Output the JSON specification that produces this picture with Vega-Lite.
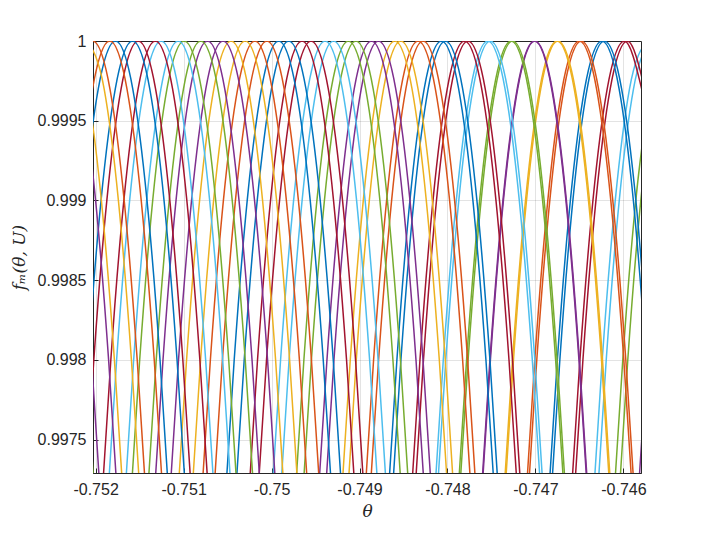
{
"$schema":"https://vega.github.io/schema/vega-lite/v6.json",
"width":548,"height":432,
"autosize":{"type":"none"},
"padding":{"left":93,"top":41,"right":69,"bottom":60},
"background":"white",
"data":{"values":[
{"c":"4L","m":4,"t":-0.7458264,"f":0.9972},{"c":"4L","m":4,"t":-0.7457334,"f":0.998},{"c":"4L","m":4,"t":-0.7455854,"f":0.999},
{"c":"5L","m":5,"t":-0.7461001,"f":0.9972},{"c":"5L","m":5,"t":-0.7460071,"f":0.998},{"c":"5L","m":5,"t":-0.7458591,"f":0.999},{"c":"5L","m":5,"t":-0.7456971,"f":0.9997},
{"c":"5R","m":5,"t":-0.7460432,"f":0.9972},{"c":"5R","m":5,"t":-0.7459502,"f":0.998},{"c":"5R","m":5,"t":-0.7458022,"f":0.999},{"c":"5R","m":5,"t":-0.7456402,"f":0.9997},
{"c":"6L","m":6,"t":-0.7463337,"f":0.9972},{"c":"6L","m":6,"t":-0.7462407,"f":0.998},{"c":"6L","m":6,"t":-0.7460927,"f":0.999},{"c":"6L","m":6,"t":-0.7459307,"f":0.9997},{"c":"6L","m":6,"t":-0.7457347,"f":1},
{"c":"6R","m":6,"t":-0.7462882,"f":0.9972},{"c":"6R","m":6,"t":-0.7461952,"f":0.998},{"c":"6R","m":6,"t":-0.7460472,"f":0.999},{"c":"6R","m":6,"t":-0.7458852,"f":0.9997},{"c":"6R","m":6,"t":-0.7456892,"f":1},
{"c":"7L","m":7,"t":-0.7465874,"f":0.9972},{"c":"7L","m":7,"t":-0.7464944,"f":0.998},{"c":"7L","m":7,"t":-0.7463464,"f":0.999},{"c":"7L","m":7,"t":-0.7461844,"f":0.9997},{"c":"7L","m":7,"t":-0.7459884,"f":1},{"c":"7L","m":7,"t":-0.7457924,"f":0.9997},
{"c":"7R","m":7,"t":-0.7465532,"f":0.9972},{"c":"7R","m":7,"t":-0.7464602,"f":0.998},{"c":"7R","m":7,"t":-0.7463122,"f":0.999},{"c":"7R","m":7,"t":-0.7461502,"f":0.9997},{"c":"7R","m":7,"t":-0.7459542,"f":1},{"c":"7R","m":7,"t":-0.7457582,"f":0.9997},
{"c":"8L","m":8,"t":-0.7468439,"f":0.9972},{"c":"8L","m":8,"t":-0.7467509,"f":0.998},{"c":"8L","m":8,"t":-0.7466029,"f":0.999},{"c":"8L","m":8,"t":-0.7464409,"f":0.9997},{"c":"8L","m":8,"t":-0.7462449,"f":1},{"c":"8L","m":8,"t":-0.7460489,"f":0.9997},{"c":"8L","m":8,"t":-0.7458869,"f":0.999},{"c":"8L","m":8,"t":-0.7457389,"f":0.998},
{"c":"8R","m":8,"t":-0.7468155,"f":0.9972},{"c":"8R","m":8,"t":-0.7467225,"f":0.998},{"c":"8R","m":8,"t":-0.7465745,"f":0.999},{"c":"8R","m":8,"t":-0.7464125,"f":0.9997},{"c":"8R","m":8,"t":-0.7462165,"f":1},{"c":"8R","m":8,"t":-0.7460205,"f":0.9997},{"c":"8R","m":8,"t":-0.7458585,"f":0.999},{"c":"8R","m":8,"t":-0.7457105,"f":0.998},
{"c":"9L","m":9,"t":-0.7471004,"f":0.9972},{"c":"9L","m":9,"t":-0.7470074,"f":0.998},{"c":"9L","m":9,"t":-0.7468594,"f":0.999},{"c":"9L","m":9,"t":-0.7466974,"f":0.9997},{"c":"9L","m":9,"t":-0.7465014,"f":1},{"c":"9L","m":9,"t":-0.7463054,"f":0.9997},{"c":"9L","m":9,"t":-0.7461434,"f":0.999},{"c":"9L","m":9,"t":-0.7459954,"f":0.998},{"c":"9L","m":9,"t":-0.7459024,"f":0.9972},
{"c":"9R","m":9,"t":-0.7470777,"f":0.9972},{"c":"9R","m":9,"t":-0.7469847,"f":0.998},{"c":"9R","m":9,"t":-0.7468367,"f":0.999},{"c":"9R","m":9,"t":-0.7466747,"f":0.9997},{"c":"9R","m":9,"t":-0.7464787,"f":1},{"c":"9R","m":9,"t":-0.7462827,"f":0.9997},{"c":"9R","m":9,"t":-0.7461207,"f":0.999},{"c":"9R","m":9,"t":-0.7459727,"f":0.998},{"c":"9R","m":9,"t":-0.7458797,"f":0.9972},
{"c":"10L","m":10,"t":-0.7473541,"f":0.9972},{"c":"10L","m":10,"t":-0.7472611,"f":0.998},{"c":"10L","m":10,"t":-0.7471131,"f":0.999},{"c":"10L","m":10,"t":-0.7469511,"f":0.9997},{"c":"10L","m":10,"t":-0.7467551,"f":1},{"c":"10L","m":10,"t":-0.7465591,"f":0.9997},{"c":"10L","m":10,"t":-0.7463971,"f":0.999},{"c":"10L","m":10,"t":-0.7462491,"f":0.998},{"c":"10L","m":10,"t":-0.7461561,"f":0.9972},
{"c":"10R","m":10,"t":-0.7473427,"f":0.9972},{"c":"10R","m":10,"t":-0.7472497,"f":0.998},{"c":"10R","m":10,"t":-0.7471017,"f":0.999},{"c":"10R","m":10,"t":-0.7469397,"f":0.9997},{"c":"10R","m":10,"t":-0.7467437,"f":1},{"c":"10R","m":10,"t":-0.7465477,"f":0.9997},{"c":"10R","m":10,"t":-0.7463857,"f":0.999},{"c":"10R","m":10,"t":-0.7462377,"f":0.998},{"c":"10R","m":10,"t":-0.7461447,"f":0.9972},
{"c":"11L","m":11,"t":-0.7476106,"f":0.9972},{"c":"11L","m":11,"t":-0.7475176,"f":0.998},{"c":"11L","m":11,"t":-0.7473696,"f":0.999},{"c":"11L","m":11,"t":-0.7472076,"f":0.9997},{"c":"11L","m":11,"t":-0.7470116,"f":1},{"c":"11L","m":11,"t":-0.7468156,"f":0.9997},{"c":"11L","m":11,"t":-0.7466536,"f":0.999},{"c":"11L","m":11,"t":-0.7465056,"f":0.998},{"c":"11L","m":11,"t":-0.7464126,"f":0.9972},
{"c":"11R","m":11,"t":-0.7476049,"f":0.9972},{"c":"11R","m":11,"t":-0.7475119,"f":0.998},{"c":"11R","m":11,"t":-0.7473639,"f":0.999},{"c":"11R","m":11,"t":-0.7472019,"f":0.9997},{"c":"11R","m":11,"t":-0.7470059,"f":1},{"c":"11R","m":11,"t":-0.7468099,"f":0.9997},{"c":"11R","m":11,"t":-0.7466479,"f":0.999},{"c":"11R","m":11,"t":-0.7464999,"f":0.998},{"c":"11R","m":11,"t":-0.7464069,"f":0.9972},
{"c":"12L","m":12,"t":-0.7478757,"f":0.9972},{"c":"12L","m":12,"t":-0.7477827,"f":0.998},{"c":"12L","m":12,"t":-0.7476347,"f":0.999},{"c":"12L","m":12,"t":-0.7474727,"f":0.9997},{"c":"12L","m":12,"t":-0.7472767,"f":1},{"c":"12L","m":12,"t":-0.7470807,"f":0.9997},{"c":"12L","m":12,"t":-0.7469187,"f":0.999},{"c":"12L","m":12,"t":-0.7467707,"f":0.998},{"c":"12L","m":12,"t":-0.7466777,"f":0.9972},
{"c":"12R","m":12,"t":-0.7478586,"f":0.9972},{"c":"12R","m":12,"t":-0.7477656,"f":0.998},{"c":"12R","m":12,"t":-0.7476176,"f":0.999},{"c":"12R","m":12,"t":-0.7474556,"f":0.9997},{"c":"12R","m":12,"t":-0.7472596,"f":1},{"c":"12R","m":12,"t":-0.7470636,"f":0.9997},{"c":"12R","m":12,"t":-0.7469016,"f":0.999},{"c":"12R","m":12,"t":-0.7467536,"f":0.998},{"c":"12R","m":12,"t":-0.7466606,"f":0.9972},
{"c":"13L","m":13,"t":-0.7481407,"f":0.9972},{"c":"13L","m":13,"t":-0.7480477,"f":0.998},{"c":"13L","m":13,"t":-0.7478997,"f":0.999},{"c":"13L","m":13,"t":-0.7477377,"f":0.9997},{"c":"13L","m":13,"t":-0.7475417,"f":1},{"c":"13L","m":13,"t":-0.7473457,"f":0.9997},{"c":"13L","m":13,"t":-0.7471837,"f":0.999},{"c":"13L","m":13,"t":-0.7470357,"f":0.998},{"c":"13L","m":13,"t":-0.7469427,"f":0.9972},
{"c":"13R","m":13,"t":-0.7481123,"f":0.9972},{"c":"13R","m":13,"t":-0.7480193,"f":0.998},{"c":"13R","m":13,"t":-0.7478713,"f":0.999},{"c":"13R","m":13,"t":-0.7477093,"f":0.9997},{"c":"13R","m":13,"t":-0.7475133,"f":1},{"c":"13R","m":13,"t":-0.7473173,"f":0.9997},{"c":"13R","m":13,"t":-0.7471553,"f":0.999},{"c":"13R","m":13,"t":-0.7470073,"f":0.998},{"c":"13R","m":13,"t":-0.7469143,"f":0.9972},
{"c":"14L","m":14,"t":-0.7484058,"f":0.9972},{"c":"14L","m":14,"t":-0.7483128,"f":0.998},{"c":"14L","m":14,"t":-0.7481648,"f":0.999},{"c":"14L","m":14,"t":-0.7480028,"f":0.9997},{"c":"14L","m":14,"t":-0.7478068,"f":1},{"c":"14L","m":14,"t":-0.7476108,"f":0.9997},{"c":"14L","m":14,"t":-0.7474488,"f":0.999},{"c":"14L","m":14,"t":-0.7473008,"f":0.998},{"c":"14L","m":14,"t":-0.7472078,"f":0.9972},
{"c":"14R","m":14,"t":-0.748366,"f":0.9972},{"c":"14R","m":14,"t":-0.748273,"f":0.998},{"c":"14R","m":14,"t":-0.748125,"f":0.999},{"c":"14R","m":14,"t":-0.747963,"f":0.9997},{"c":"14R","m":14,"t":-0.747767,"f":1},{"c":"14R","m":14,"t":-0.747571,"f":0.9997},{"c":"14R","m":14,"t":-0.747409,"f":0.999},{"c":"14R","m":14,"t":-0.747261,"f":0.998},{"c":"14R","m":14,"t":-0.747168,"f":0.9972},
{"c":"15L","m":15,"t":-0.748668,"f":0.9972},{"c":"15L","m":15,"t":-0.748575,"f":0.998},{"c":"15L","m":15,"t":-0.748427,"f":0.999},{"c":"15L","m":15,"t":-0.748265,"f":0.9997},{"c":"15L","m":15,"t":-0.748069,"f":1},{"c":"15L","m":15,"t":-0.747873,"f":0.9997},{"c":"15L","m":15,"t":-0.747711,"f":0.999},{"c":"15L","m":15,"t":-0.747563,"f":0.998},{"c":"15L","m":15,"t":-0.74747,"f":0.9972},
{"c":"15R","m":15,"t":-0.7486225,"f":0.9972},{"c":"15R","m":15,"t":-0.7485295,"f":0.998},{"c":"15R","m":15,"t":-0.7483815,"f":0.999},{"c":"15R","m":15,"t":-0.7482195,"f":0.9997},{"c":"15R","m":15,"t":-0.7480235,"f":1},{"c":"15R","m":15,"t":-0.7478275,"f":0.9997},{"c":"15R","m":15,"t":-0.7476655,"f":0.999},{"c":"15R","m":15,"t":-0.7475175,"f":0.998},{"c":"15R","m":15,"t":-0.7474245,"f":0.9972},
{"c":"16L","m":16,"t":-0.748933,"f":0.9972},{"c":"16L","m":16,"t":-0.74884,"f":0.998},{"c":"16L","m":16,"t":-0.748692,"f":0.999},{"c":"16L","m":16,"t":-0.74853,"f":0.9997},{"c":"16L","m":16,"t":-0.748334,"f":1},{"c":"16L","m":16,"t":-0.748138,"f":0.9997},{"c":"16L","m":16,"t":-0.747976,"f":0.999},{"c":"16L","m":16,"t":-0.747828,"f":0.998},{"c":"16L","m":16,"t":-0.747735,"f":0.9972},
{"c":"16R","m":16,"t":-0.7488761,"f":0.9972},{"c":"16R","m":16,"t":-0.7487831,"f":0.998},{"c":"16R","m":16,"t":-0.7486351,"f":0.999},{"c":"16R","m":16,"t":-0.7484731,"f":0.9997},{"c":"16R","m":16,"t":-0.7482771,"f":1},{"c":"16R","m":16,"t":-0.7480811,"f":0.9997},{"c":"16R","m":16,"t":-0.7479191,"f":0.999},{"c":"16R","m":16,"t":-0.7477711,"f":0.998},{"c":"16R","m":16,"t":-0.7476781,"f":0.9972},
{"c":"17L","m":17,"t":-0.7491981,"f":0.9972},{"c":"17L","m":17,"t":-0.7491051,"f":0.998},{"c":"17L","m":17,"t":-0.7489571,"f":0.999},{"c":"17L","m":17,"t":-0.7487951,"f":0.9997},{"c":"17L","m":17,"t":-0.7485991,"f":1},{"c":"17L","m":17,"t":-0.7484031,"f":0.9997},{"c":"17L","m":17,"t":-0.7482411,"f":0.999},{"c":"17L","m":17,"t":-0.7480931,"f":0.998},{"c":"17L","m":17,"t":-0.7480001,"f":0.9972},
{"c":"17R","m":17,"t":-0.7491298,"f":0.9972},{"c":"17R","m":17,"t":-0.7490368,"f":0.998},{"c":"17R","m":17,"t":-0.7488888,"f":0.999},{"c":"17R","m":17,"t":-0.7487268,"f":0.9997},{"c":"17R","m":17,"t":-0.7485308,"f":1},{"c":"17R","m":17,"t":-0.7483348,"f":0.9997},{"c":"17R","m":17,"t":-0.7481728,"f":0.999},{"c":"17R","m":17,"t":-0.7480248,"f":0.998},{"c":"17R","m":17,"t":-0.7479318,"f":0.9972},
{"c":"18L","m":18,"t":-0.7494632,"f":0.9972},{"c":"18L","m":18,"t":-0.7493702,"f":0.998},{"c":"18L","m":18,"t":-0.7492222,"f":0.999},{"c":"18L","m":18,"t":-0.7490602,"f":0.9997},{"c":"18L","m":18,"t":-0.7488642,"f":1},{"c":"18L","m":18,"t":-0.7486682,"f":0.9997},{"c":"18L","m":18,"t":-0.7485062,"f":0.999},{"c":"18L","m":18,"t":-0.7483582,"f":0.998},{"c":"18L","m":18,"t":-0.7482652,"f":0.9972},
{"c":"18R","m":18,"t":-0.7493835,"f":0.9972},{"c":"18R","m":18,"t":-0.7492905,"f":0.998},{"c":"18R","m":18,"t":-0.7491425,"f":0.999},{"c":"18R","m":18,"t":-0.7489805,"f":0.9997},{"c":"18R","m":18,"t":-0.7487845,"f":1},{"c":"18R","m":18,"t":-0.7485885,"f":0.9997},{"c":"18R","m":18,"t":-0.7484265,"f":0.999},{"c":"18R","m":18,"t":-0.7482785,"f":0.998},{"c":"18R","m":18,"t":-0.7481855,"f":0.9972},
{"c":"19L","m":19,"t":-0.7497254,"f":0.9972},{"c":"19L","m":19,"t":-0.7496324,"f":0.998},{"c":"19L","m":19,"t":-0.7494844,"f":0.999},{"c":"19L","m":19,"t":-0.7493224,"f":0.9997},{"c":"19L","m":19,"t":-0.7491264,"f":1},{"c":"19L","m":19,"t":-0.7489304,"f":0.9997},{"c":"19L","m":19,"t":-0.7487684,"f":0.999},{"c":"19L","m":19,"t":-0.7486204,"f":0.998},{"c":"19L","m":19,"t":-0.7485274,"f":0.9972},
{"c":"19R","m":19,"t":-0.74964,"f":0.9972},{"c":"19R","m":19,"t":-0.749547,"f":0.998},{"c":"19R","m":19,"t":-0.749399,"f":0.999},{"c":"19R","m":19,"t":-0.749237,"f":0.9997},{"c":"19R","m":19,"t":-0.749041,"f":1},{"c":"19R","m":19,"t":-0.748845,"f":0.9997},{"c":"19R","m":19,"t":-0.748683,"f":0.999},{"c":"19R","m":19,"t":-0.748535,"f":0.998},{"c":"19R","m":19,"t":-0.748442,"f":0.9972},
{"c":"20L","m":20,"t":-0.7499904,"f":0.9972},{"c":"20L","m":20,"t":-0.7498974,"f":0.998},{"c":"20L","m":20,"t":-0.7497494,"f":0.999},{"c":"20L","m":20,"t":-0.7495874,"f":0.9997},{"c":"20L","m":20,"t":-0.7493914,"f":1},{"c":"20L","m":20,"t":-0.7491954,"f":0.9997},{"c":"20L","m":20,"t":-0.7490334,"f":0.999},{"c":"20L","m":20,"t":-0.7488854,"f":0.998},{"c":"20L","m":20,"t":-0.7487924,"f":0.9972},
{"c":"20R","m":20,"t":-0.7498937,"f":0.9972},{"c":"20R","m":20,"t":-0.7498007,"f":0.998},{"c":"20R","m":20,"t":-0.7496527,"f":0.999},{"c":"20R","m":20,"t":-0.7494907,"f":0.9997},{"c":"20R","m":20,"t":-0.7492947,"f":1},{"c":"20R","m":20,"t":-0.7490987,"f":0.9997},{"c":"20R","m":20,"t":-0.7489367,"f":0.999},{"c":"20R","m":20,"t":-0.7487887,"f":0.998},{"c":"20R","m":20,"t":-0.7486957,"f":0.9972},
{"c":"21L","m":21,"t":-0.7502526,"f":0.9972},{"c":"21L","m":21,"t":-0.7501596,"f":0.998},{"c":"21L","m":21,"t":-0.7500116,"f":0.999},{"c":"21L","m":21,"t":-0.7498496,"f":0.9997},{"c":"21L","m":21,"t":-0.7496536,"f":1},{"c":"21L","m":21,"t":-0.7494576,"f":0.9997},{"c":"21L","m":21,"t":-0.7492956,"f":0.999},{"c":"21L","m":21,"t":-0.7491476,"f":0.998},{"c":"21L","m":21,"t":-0.7490546,"f":0.9972},
{"c":"21R","m":21,"t":-0.7501502,"f":0.9972},{"c":"21R","m":21,"t":-0.7500572,"f":0.998},{"c":"21R","m":21,"t":-0.7499092,"f":0.999},{"c":"21R","m":21,"t":-0.7497472,"f":0.9997},{"c":"21R","m":21,"t":-0.7495512,"f":1},{"c":"21R","m":21,"t":-0.7493552,"f":0.9997},{"c":"21R","m":21,"t":-0.7491932,"f":0.999},{"c":"21R","m":21,"t":-0.7490452,"f":0.998},{"c":"21R","m":21,"t":-0.7489522,"f":0.9972},
{"c":"22L","m":22,"t":-0.7505177,"f":0.9972},{"c":"22L","m":22,"t":-0.7504247,"f":0.998},{"c":"22L","m":22,"t":-0.7502767,"f":0.999},{"c":"22L","m":22,"t":-0.7501147,"f":0.9997},{"c":"22L","m":22,"t":-0.7499187,"f":1},{"c":"22L","m":22,"t":-0.7497227,"f":0.9997},{"c":"22L","m":22,"t":-0.7495607,"f":0.999},{"c":"22L","m":22,"t":-0.7494127,"f":0.998},{"c":"22L","m":22,"t":-0.7493197,"f":0.9972},
{"c":"22R","m":22,"t":-0.7504039,"f":0.9972},{"c":"22R","m":22,"t":-0.7503109,"f":0.998},{"c":"22R","m":22,"t":-0.7501629,"f":0.999},{"c":"22R","m":22,"t":-0.7500009,"f":0.9997},{"c":"22R","m":22,"t":-0.7498049,"f":1},{"c":"22R","m":22,"t":-0.7496089,"f":0.9997},{"c":"22R","m":22,"t":-0.7494469,"f":0.999},{"c":"22R","m":22,"t":-0.7492989,"f":0.998},{"c":"22R","m":22,"t":-0.7492059,"f":0.9972},
{"c":"23L","m":23,"t":-0.7507885,"f":0.9972},{"c":"23L","m":23,"t":-0.7506955,"f":0.998},{"c":"23L","m":23,"t":-0.7505475,"f":0.999},{"c":"23L","m":23,"t":-0.7503855,"f":0.9997},{"c":"23L","m":23,"t":-0.7501895,"f":1},{"c":"23L","m":23,"t":-0.7499935,"f":0.9997},{"c":"23L","m":23,"t":-0.7498315,"f":0.999},{"c":"23L","m":23,"t":-0.7496835,"f":0.998},{"c":"23L","m":23,"t":-0.7495905,"f":0.9972},
{"c":"23R","m":23,"t":-0.7506518,"f":0.9972},{"c":"23R","m":23,"t":-0.7505588,"f":0.998},{"c":"23R","m":23,"t":-0.7504108,"f":0.999},{"c":"23R","m":23,"t":-0.7502488,"f":0.9997},{"c":"23R","m":23,"t":-0.7500528,"f":1},{"c":"23R","m":23,"t":-0.7498568,"f":0.9997},{"c":"23R","m":23,"t":-0.7496948,"f":0.999},{"c":"23R","m":23,"t":-0.7495468,"f":0.998},{"c":"23R","m":23,"t":-0.7494538,"f":0.9972},
{"c":"24L","m":24,"t":-0.7510592,"f":0.9972},{"c":"24L","m":24,"t":-0.7509662,"f":0.998},{"c":"24L","m":24,"t":-0.7508182,"f":0.999},{"c":"24L","m":24,"t":-0.7506562,"f":0.9997},{"c":"24L","m":24,"t":-0.7504602,"f":1},{"c":"24L","m":24,"t":-0.7502642,"f":0.9997},{"c":"24L","m":24,"t":-0.7501022,"f":0.999},{"c":"24L","m":24,"t":-0.7499542,"f":0.998},{"c":"24L","m":24,"t":-0.7498612,"f":0.9972},
{"c":"24R","m":24,"t":-0.7508998,"f":0.9972},{"c":"24R","m":24,"t":-0.7508068,"f":0.998},{"c":"24R","m":24,"t":-0.7506588,"f":0.999},{"c":"24R","m":24,"t":-0.7504968,"f":0.9997},{"c":"24R","m":24,"t":-0.7503008,"f":1},{"c":"24R","m":24,"t":-0.7501048,"f":0.9997},{"c":"24R","m":24,"t":-0.7499428,"f":0.999},{"c":"24R","m":24,"t":-0.7497948,"f":0.998},{"c":"24R","m":24,"t":-0.7497018,"f":0.9972},
{"c":"25L","m":25,"t":-0.7513271,"f":0.9972},{"c":"25L","m":25,"t":-0.7512341,"f":0.998},{"c":"25L","m":25,"t":-0.7510861,"f":0.999},{"c":"25L","m":25,"t":-0.7509241,"f":0.9997},{"c":"25L","m":25,"t":-0.7507281,"f":1},{"c":"25L","m":25,"t":-0.7505321,"f":0.9997},{"c":"25L","m":25,"t":-0.7503701,"f":0.999},{"c":"25L","m":25,"t":-0.7502221,"f":0.998},{"c":"25L","m":25,"t":-0.7501291,"f":0.9972},
{"c":"25R","m":25,"t":-0.7511506,"f":0.9972},{"c":"25R","m":25,"t":-0.7510576,"f":0.998},{"c":"25R","m":25,"t":-0.7509096,"f":0.999},{"c":"25R","m":25,"t":-0.7507476,"f":0.9997},{"c":"25R","m":25,"t":-0.7505516,"f":1},{"c":"25R","m":25,"t":-0.7503556,"f":0.9997},{"c":"25R","m":25,"t":-0.7501936,"f":0.999},{"c":"25R","m":25,"t":-0.7500456,"f":0.998},{"c":"25R","m":25,"t":-0.7499526,"f":0.9972},
{"c":"26L","m":26,"t":-0.7515922,"f":0.9972},{"c":"26L","m":26,"t":-0.7514992,"f":0.998},{"c":"26L","m":26,"t":-0.7513512,"f":0.999},{"c":"26L","m":26,"t":-0.7511892,"f":0.9997},{"c":"26L","m":26,"t":-0.7509932,"f":1},{"c":"26L","m":26,"t":-0.7507972,"f":0.9997},{"c":"26L","m":26,"t":-0.7506352,"f":0.999},{"c":"26L","m":26,"t":-0.7504872,"f":0.998},{"c":"26L","m":26,"t":-0.7503942,"f":0.9972},
{"c":"26R","m":26,"t":-0.7514043,"f":0.9972},{"c":"26R","m":26,"t":-0.7513113,"f":0.998},{"c":"26R","m":26,"t":-0.7511633,"f":0.999},{"c":"26R","m":26,"t":-0.7510013,"f":0.9997},{"c":"26R","m":26,"t":-0.7508053,"f":1},{"c":"26R","m":26,"t":-0.7506093,"f":0.9997},{"c":"26R","m":26,"t":-0.7504473,"f":0.999},{"c":"26R","m":26,"t":-0.7502993,"f":0.998},{"c":"26R","m":26,"t":-0.7502063,"f":0.9972},
{"c":"27L","m":27,"t":-0.7518544,"f":0.9972},{"c":"27L","m":27,"t":-0.7517614,"f":0.998},{"c":"27L","m":27,"t":-0.7516134,"f":0.999},{"c":"27L","m":27,"t":-0.7514514,"f":0.9997},{"c":"27L","m":27,"t":-0.7512554,"f":1},{"c":"27L","m":27,"t":-0.7510594,"f":0.9997},{"c":"27L","m":27,"t":-0.7508974,"f":0.999},{"c":"27L","m":27,"t":-0.7507494,"f":0.998},{"c":"27L","m":27,"t":-0.7506564,"f":0.9972},
{"c":"27R","m":27,"t":-0.7516608,"f":0.9972},{"c":"27R","m":27,"t":-0.7515678,"f":0.998},{"c":"27R","m":27,"t":-0.7514198,"f":0.999},{"c":"27R","m":27,"t":-0.7512578,"f":0.9997},{"c":"27R","m":27,"t":-0.7510618,"f":1},{"c":"27R","m":27,"t":-0.7508658,"f":0.9997},{"c":"27R","m":27,"t":-0.7507038,"f":0.999},{"c":"27R","m":27,"t":-0.7505558,"f":0.998},{"c":"27R","m":27,"t":-0.7504628,"f":0.9972},
{"c":"28L","m":28,"t":-0.7521137,"f":0.9972},{"c":"28L","m":28,"t":-0.7520207,"f":0.998},{"c":"28L","m":28,"t":-0.7518727,"f":0.999},{"c":"28L","m":28,"t":-0.7517107,"f":0.9997},{"c":"28L","m":28,"t":-0.7515147,"f":1},{"c":"28L","m":28,"t":-0.7513187,"f":0.9997},{"c":"28L","m":28,"t":-0.7511567,"f":0.999},{"c":"28L","m":28,"t":-0.7510087,"f":0.998},{"c":"28L","m":28,"t":-0.7509157,"f":0.9972},
{"c":"28R","m":28,"t":-0.7519202,"f":0.9972},{"c":"28R","m":28,"t":-0.7518272,"f":0.998},{"c":"28R","m":28,"t":-0.7516792,"f":0.999},{"c":"28R","m":28,"t":-0.7515172,"f":0.9997},{"c":"28R","m":28,"t":-0.7513212,"f":1},{"c":"28R","m":28,"t":-0.7511252,"f":0.9997},{"c":"28R","m":28,"t":-0.7509632,"f":0.999},{"c":"28R","m":28,"t":-0.7508152,"f":0.998},{"c":"28R","m":28,"t":-0.7507222,"f":0.9972},
{"c":"29L","m":29,"t":-0.7523731,"f":0.9972},{"c":"29L","m":29,"t":-0.7522801,"f":0.998},{"c":"29L","m":29,"t":-0.7521321,"f":0.999},{"c":"29L","m":29,"t":-0.7519701,"f":0.9997},{"c":"29L","m":29,"t":-0.7517741,"f":1},{"c":"29L","m":29,"t":-0.7515781,"f":0.9997},{"c":"29L","m":29,"t":-0.7514161,"f":0.999},{"c":"29L","m":29,"t":-0.7512681,"f":0.998},{"c":"29L","m":29,"t":-0.7511751,"f":0.9972},
{"c":"29R","m":29,"t":-0.7521796,"f":0.9972},{"c":"29R","m":29,"t":-0.7520866,"f":0.998},{"c":"29R","m":29,"t":-0.7519386,"f":0.999},{"c":"29R","m":29,"t":-0.7517766,"f":0.9997},{"c":"29R","m":29,"t":-0.7515806,"f":1},{"c":"29R","m":29,"t":-0.7513846,"f":0.9997},{"c":"29R","m":29,"t":-0.7512226,"f":0.999},{"c":"29R","m":29,"t":-0.7510746,"f":0.998},{"c":"29R","m":29,"t":-0.7509816,"f":0.9972},
{"c":"30L","m":30,"t":-0.7526325,"f":0.9972},{"c":"30L","m":30,"t":-0.7525395,"f":0.998},{"c":"30L","m":30,"t":-0.7523915,"f":0.999},{"c":"30L","m":30,"t":-0.7522295,"f":0.9997},{"c":"30L","m":30,"t":-0.7520335,"f":1},{"c":"30L","m":30,"t":-0.7518375,"f":0.9997},{"c":"30L","m":30,"t":-0.7516755,"f":0.999},{"c":"30L","m":30,"t":-0.7515275,"f":0.998},{"c":"30L","m":30,"t":-0.7514345,"f":0.9972},
{"c":"30R","m":30,"t":-0.7524389,"f":0.9972},{"c":"30R","m":30,"t":-0.7523459,"f":0.998},{"c":"30R","m":30,"t":-0.7521979,"f":0.999},{"c":"30R","m":30,"t":-0.7520359,"f":0.9997},{"c":"30R","m":30,"t":-0.7518399,"f":1},{"c":"30R","m":30,"t":-0.7516439,"f":0.9997},{"c":"30R","m":30,"t":-0.7514819,"f":0.999},{"c":"30R","m":30,"t":-0.7513339,"f":0.998},{"c":"30R","m":30,"t":-0.7512409,"f":0.9972},
{"c":"31L","m":31,"t":-0.7522928,"f":1},{"c":"31L","m":31,"t":-0.7520968,"f":0.9997},{"c":"31L","m":31,"t":-0.7519348,"f":0.999},{"c":"31L","m":31,"t":-0.7517868,"f":0.998},{"c":"31L","m":31,"t":-0.7516938,"f":0.9972},
{"c":"31R","m":31,"t":-0.7520993,"f":1},{"c":"31R","m":31,"t":-0.7519033,"f":0.9997},{"c":"31R","m":31,"t":-0.7517413,"f":0.999},{"c":"31R","m":31,"t":-0.7515933,"f":0.998},{"c":"31R","m":31,"t":-0.7515003,"f":0.9972},
{"c":"32L","m":32,"t":-0.7525522,"f":1},{"c":"32L","m":32,"t":-0.7523562,"f":0.9997},{"c":"32L","m":32,"t":-0.7521942,"f":0.999},{"c":"32L","m":32,"t":-0.7520462,"f":0.998},{"c":"32L","m":32,"t":-0.7519532,"f":0.9972},
{"c":"32R","m":32,"t":-0.7523586,"f":1},{"c":"32R","m":32,"t":-0.7521626,"f":0.9997},{"c":"32R","m":32,"t":-0.7520006,"f":0.999},{"c":"32R","m":32,"t":-0.7518526,"f":0.998},{"c":"32R","m":32,"t":-0.7517596,"f":0.9972},
{"c":"33R","m":33,"t":-0.75226,"f":0.999},{"c":"33R","m":33,"t":-0.752112,"f":0.998},{"c":"33R","m":33,"t":-0.752019,"f":0.9972}
]},
"mark":{"type":"line","clip":true,"interpolate":"monotone","strokeWidth":1.5},
"encoding":{
"x":{"field":"t","type":"quantitative","title":"θ",
"scale":{"domain":[-0.75203,-0.7458],"nice":false,"zero":false},
"axis":{"values":[-0.752,-0.751,-0.75,-0.749,-0.748,-0.747,-0.746],"labelExpr":"'-' + format(abs(datum.value), '~g')","tickSize":-5,"labelPadding":13,"titlePadding":6}},
"y":{"field":"f","type":"quantitative","title":"fₘ(θ, U)",
"scale":{"domain":[0.99729,1],"nice":false,"zero":false},
"axis":{"values":[0.9975,0.998,0.9985,0.999,0.9995,1],"labelExpr":"format(datum.value, '~g')","tickSize":-5,"labelPadding":12,"titlePadding":9}},
"color":{"field":"m","type":"ordinal","legend":null,
"scale":{"domain":[1,2,3,4,5,6,7,8,9,10,11,12,13,14,15,16,17,18,19,20,21,22,23,24,25,26,27,28,29,30,31,32,33],
"range":["#0072BD","#D95319","#EDB120","#7E2F8E","#77AC30","#4DBEEE","#A2142F"]}},
"detail":{"field":"c"}
},
"config":{
"view":{"stroke":"#262626","strokeWidth":1},
"axis":{"grid":true,"gridColor":"#262626","gridOpacity":0.13,"domainColor":"#262626","tickColor":"#262626",
"labelFont":"Liberation Sans","labelFontSize":16,"labelColor":"#262626",
"titleFont":"DejaVu Serif","titleFontStyle":"italic","titleFontWeight":"normal","titleFontSize":17,"titleColor":"#262626"}
}
}
